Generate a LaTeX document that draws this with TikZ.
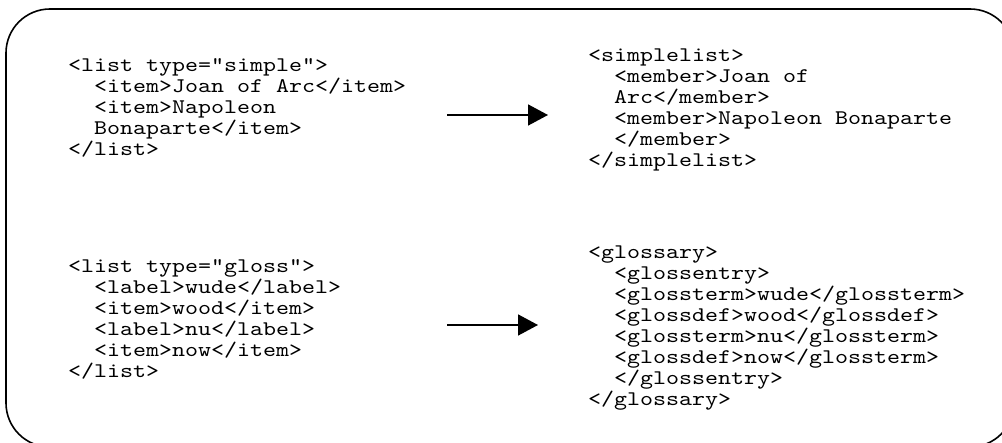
\documentclass[tikz,border=0pt]{standalone}
\usepackage{fontspec}
\usepackage{tikz}
\usetikzlibrary{arrows.meta}
\newfontfamily\codefont{lmmono10-regular.otf}[FakeStretch=1.19]
\newcommand{\codesize}{\fontsize{20.8}{21}\selectfont\lineskiplimit=-100pt\relax}
\newcommand{\indt}{\hphantom{xx}}

\begin{document}
\begin{tikzpicture}[x=1pt,y=-1pt,
    code/.style={anchor=base west,inner sep=0pt,align=left,
      font=\codefont\codesize},
    conv/.style={line width=1.6pt,-{Triangle[length=20pt,width=21pt]}}]
  \useasboundingbox (0,0) rectangle (1002,443);
  \clip (0,0) rectangle (1002,443);
  % frame, runs off the right and bottom edge
  \draw[line width=1.6pt,rounded corners=44pt] (6,9) rectangle (1014,447);

  % simple list (placed by last line)
  \node[code] (simple) at (68,156) {<list type="simple">\\
    \indt<item>Joan of Arc</item>\\
    \indt<item>Napoleon\\
    \indt Bonaparte</item>\\
    </list>};
  \node[code] (simplelist) at (588,167) {<simplelist>\\
    \indt<member>Joan of\\
    \indt Arc</member>\\
    \indt<member>Napoleon Bonaparte\\
    \indt</member>\\
    </simplelist>};

  % gloss list
  \node[code] (gloss) at (68,378) {<list type="gloss">\\
    \indt<label>wude</label>\\
    \indt<item>wood</item>\\
    \indt<label>nu</label>\\
    \indt<item>now</item>\\
    </list>};
  \node[code] (glossary) at (588,406) {<glossary>\\
    \indt<glossentry>\\
    \indt<glossterm>wude</glossterm>\\
    \indt<glossdef>wood</glossdef>\\
    \indt<glossterm>nu</glossterm>\\
    \indt<glossdef>now</glossterm>\\
    \indt</glossentry>\\
    </glossary>};

  \coordinate (s1) at (447,115);
  \coordinate (e1) at (548,115);
  \coordinate (s2) at (447,325);
  \coordinate (e2) at (538,325);
  \draw[conv] (s1) -- (e1);
  \draw[conv] (s2) -- (e2);
\end{tikzpicture}
\end{document}
